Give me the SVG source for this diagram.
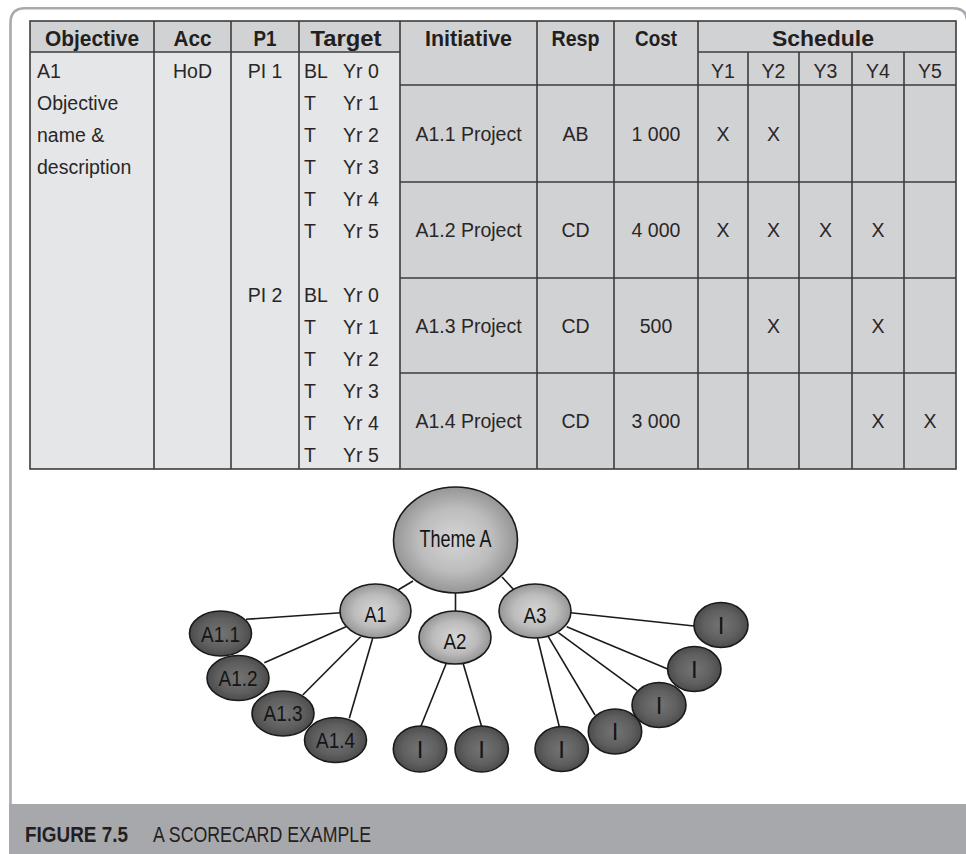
<svg xmlns="http://www.w3.org/2000/svg" width="966" height="854" viewBox="0 0 966 854">
  <style>
    .t { font-family: "Liberation Sans", Arial, sans-serif; font-size: 19.5px; fill: #2a2627; }
    .c { text-anchor: middle; }
    .h { font-family: "Liberation Sans", Arial, sans-serif; font-size: 22px; font-weight: bold; fill: #231f20; text-anchor: middle; }
    .grid { stroke: #3d3d3d; stroke-width: 1.6; fill: none; }
    .edge { stroke: #1a1a1a; stroke-width: 1.6; fill: none; }
    .upper { fill: url(#gradLight); stroke: #1a1a1a; stroke-width: 1.6; }
    .leaf { fill: url(#gradDark); stroke: #1a1a1a; stroke-width: 1.6; }
    .nl { font-family: "Liberation Sans", Arial, sans-serif; font-size: 22px; fill: #151515; text-anchor: middle; }
  </style>
  <defs>
    <radialGradient id="gradLight" cx="50%" cy="50%" r="55%">
      <stop offset="0" stop-color="#d6d6d6"/>
      <stop offset="0.55" stop-color="#bcbcbc"/>
      <stop offset="1" stop-color="#8c8c8c"/>
    </radialGradient>
    <radialGradient id="gradDark" cx="50%" cy="50%" r="55%">
      <stop offset="0" stop-color="#747474"/>
      <stop offset="0.6" stop-color="#5f5f5f"/>
      <stop offset="1" stop-color="#464646"/>
    </radialGradient>
  </defs>

  <rect width="966" height="854" fill="#ffffff"/>

  <!-- page frame and caption band -->
  <path d="M10.5,806 V23 Q10.5,8.3 25,8.3 H953 Q967.5,8.3 967.5,23 V806" fill="none" stroke="#a9aaae" stroke-width="2.6"/>
  <rect x="9" y="804" width="958" height="50" fill="#a7a8ac"/>
  <text class="t" x="25" y="842" style="font-weight:bold;font-size:22px;fill:#231f20" textLength="103" lengthAdjust="spacingAndGlyphs">FIGURE 7.5</text>
  <text class="t" x="153" y="842" style="font-size:22px;fill:#231f20" textLength="218" lengthAdjust="spacingAndGlyphs">A SCORECARD EXAMPLE</text>

  <!-- scorecard table -->
  <g id="scorecard-table">
    <rect x="30" y="52" width="370" height="417" fill="#e5e6e8"/>
    <rect x="30" y="21" width="370" height="31" fill="#d1d2d4"/>
    <rect x="400" y="21" width="556" height="448" fill="#d1d2d4"/>

    <g class="grid">
      <rect x="30" y="21" width="926" height="448"/>
      <path d="M30,52 H400 M698,52 H956 M400,85 H956 M400,182 H956 M400,278 H956 M400,373 H956"/>
      <path d="M154,21 V469 M231,21 V469 M299,21 V469 M400,21 V469 M537,21 V469 M614,21 V469 M698,21 V469"/>
      <path d="M748,52 V469 M799,52 V469 M852,52 V469 M904,52 V469"/>
    </g>

    <!-- header row -->
    <text class="h" x="92" y="45.5" textLength="94" lengthAdjust="spacingAndGlyphs">Objective</text>
    <text class="h" x="192.5" y="45.5" textLength="38" lengthAdjust="spacingAndGlyphs">Acc</text>
    <text class="h" x="265" y="45.5" textLength="23" lengthAdjust="spacingAndGlyphs">P1</text>
    <text class="h" x="346" y="45.5" textLength="71" lengthAdjust="spacingAndGlyphs">Target</text>
    <text class="h" x="468.5" y="45.5" textLength="87" lengthAdjust="spacingAndGlyphs">Initiative</text>
    <text class="h" x="575.5" y="45.5" textLength="48" lengthAdjust="spacingAndGlyphs">Resp</text>
    <text class="h" x="656" y="45.5" textLength="42" lengthAdjust="spacingAndGlyphs">Cost</text>
    <text class="h" x="823" y="45.5" textLength="102" lengthAdjust="spacingAndGlyphs">Schedule</text>

    <!-- schedule year sub-header -->
    <text class="t c" x="723" y="78">Y1</text>
    <text class="t c" x="773.5" y="78">Y2</text>
    <text class="t c" x="825.5" y="78">Y3</text>
    <text class="t c" x="878" y="78">Y4</text>
    <text class="t c" x="930" y="78">Y5</text>

    <!-- objective, owner and indicators -->
    <text class="t" x="37" y="77.7">A1</text>
    <text class="t" x="37" y="109.7">Objective</text>
    <text class="t" x="37" y="141.7">name &amp;</text>
    <text class="t" x="37" y="173.7">description</text>
    <text class="t c" x="192.5" y="77.7">HoD</text>
    <text class="t c" x="265" y="77.7">PI 1</text>
    <text class="t c" x="265" y="301.7">PI 2</text>

    <!-- targets per year -->
    <g class="t">
      <text x="304" y="77.7">BL</text><text x="343" y="77.7">Yr 0</text>
      <text x="304" y="109.7">T</text><text x="343" y="109.7">Yr 1</text>
      <text x="304" y="141.7">T</text><text x="343" y="141.7">Yr 2</text>
      <text x="304" y="173.7">T</text><text x="343" y="173.7">Yr 3</text>
      <text x="304" y="205.7">T</text><text x="343" y="205.7">Yr 4</text>
      <text x="304" y="237.7">T</text><text x="343" y="237.7">Yr 5</text>
      <text x="304" y="301.7">BL</text><text x="343" y="301.7">Yr 0</text>
      <text x="304" y="333.7">T</text><text x="343" y="333.7">Yr 1</text>
      <text x="304" y="365.7">T</text><text x="343" y="365.7">Yr 2</text>
      <text x="304" y="397.7">T</text><text x="343" y="397.7">Yr 3</text>
      <text x="304" y="429.7">T</text><text x="343" y="429.7">Yr 4</text>
      <text x="304" y="461.7">T</text><text x="343" y="461.7">Yr 5</text>
    </g>

    <!-- initiatives -->
    <g class="t c">
      <text x="468.5" y="140.5">A1.1 Project</text>
      <text x="575.5" y="140.5">AB</text>
      <text x="656" y="140.5">1 000</text>
      <text x="723" y="140.5">X</text>
      <text x="773.5" y="140.5">X</text>

      <text x="468.5" y="237">A1.2 Project</text>
      <text x="575.5" y="237">CD</text>
      <text x="656" y="237">4 000</text>
      <text x="723" y="237">X</text>
      <text x="773.5" y="237">X</text>
      <text x="825.5" y="237">X</text>
      <text x="878" y="237">X</text>

      <text x="468.5" y="332.5">A1.3 Project</text>
      <text x="575.5" y="332.5">CD</text>
      <text x="656" y="332.5">500</text>
      <text x="773.5" y="332.5">X</text>
      <text x="878" y="332.5">X</text>

      <text x="468.5" y="428">A1.4 Project</text>
      <text x="575.5" y="428">CD</text>
      <text x="656" y="428">3 000</text>
      <text x="878" y="428">X</text>
      <text x="930" y="428">X</text>
    </g>
  </g>

  <!-- connectors of the theme tree -->
  <g id="connectors" class="edge">
    <line x1="413" y1="581" x2="398" y2="590"/>
    <line x1="455.5" y1="593" x2="455.5" y2="612"/>
    <line x1="502" y1="577" x2="514" y2="590"/>
    <line x1="341" y1="612.7" x2="246" y2="619.3"/>
    <line x1="346" y1="626.7" x2="264.3" y2="662.7"/>
    <line x1="360.7" y1="636.7" x2="302.7" y2="695"/>
    <line x1="372.7" y1="638.3" x2="349.3" y2="718.3"/>
    <line x1="446" y1="664" x2="420.7" y2="726.7"/>
    <line x1="463.3" y1="664" x2="481.7" y2="726.7"/>
    <line x1="537.5" y1="638" x2="559.3" y2="726.7"/>
    <line x1="548.3" y1="636.7" x2="595" y2="715"/>
    <line x1="558.3" y1="632.7" x2="637.3" y2="690.7"/>
    <line x1="566.7" y1="626.7" x2="668.3" y2="669.3"/>
    <line x1="570.7" y1="612.7" x2="694" y2="626"/>
  </g>

  <!-- theme and objectives -->
  <g id="node-theme-a">
    <ellipse class="upper" cx="455.5" cy="540" rx="62" ry="53"/>
    <text class="nl" x="455.5" y="547" style="font-size:24px" textLength="72" lengthAdjust="spacingAndGlyphs">Theme A</text>
  </g>
  <g id="node-a1">
    <ellipse class="upper" cx="375.5" cy="611" rx="35.5" ry="27"/>
    <text class="nl" x="375.5" y="622.3" textLength="22" lengthAdjust="spacingAndGlyphs">A1</text>
  </g>
  <g id="node-a2">
    <ellipse class="upper" cx="455" cy="637.5" rx="36" ry="26.5"/>
    <text class="nl" x="455" y="649" textLength="23" lengthAdjust="spacingAndGlyphs">A2</text>
  </g>
  <g id="node-a3">
    <ellipse class="upper" cx="535" cy="611" rx="36" ry="27"/>
    <text class="nl" x="535" y="622.5" textLength="23" lengthAdjust="spacingAndGlyphs">A3</text>
  </g>

  <!-- initiatives under A1 -->
  <g id="node-a1-1">
    <ellipse class="leaf" cx="220.5" cy="633.5" rx="31" ry="22.5"/>
    <text class="nl" x="220.5" y="641.7" textLength="39" lengthAdjust="spacingAndGlyphs">A1.1</text>
  </g>
  <g id="node-a1-2">
    <ellipse class="leaf" cx="238" cy="678" rx="31" ry="22.5"/>
    <text class="nl" x="238" y="685.5" textLength="39" lengthAdjust="spacingAndGlyphs">A1.2</text>
  </g>
  <g id="node-a1-3">
    <ellipse class="leaf" cx="283" cy="713.5" rx="31" ry="22.5"/>
    <text class="nl" x="283" y="720.7" textLength="39" lengthAdjust="spacingAndGlyphs">A1.3</text>
  </g>
  <g id="node-a1-4">
    <ellipse class="leaf" cx="335.5" cy="740" rx="31" ry="22.5"/>
    <text class="nl" x="335.5" y="748.3" textLength="39" lengthAdjust="spacingAndGlyphs">A1.4</text>
  </g>

  <!-- initiatives under A2 -->
  <g id="node-a2-i1">
    <ellipse class="leaf" cx="420" cy="749" rx="26.7" ry="23"/>
    <text class="nl" x="420" y="757.8" style="font-size:24px">I</text>
  </g>
  <g id="node-a2-i2">
    <ellipse class="leaf" cx="481.7" cy="749" rx="26.7" ry="23"/>
    <text class="nl" x="481.7" y="757.8" style="font-size:24px">I</text>
  </g>

  <!-- initiatives under A3 -->
  <g id="node-a3-i1">
    <ellipse class="leaf" cx="561.7" cy="749" rx="26.7" ry="22.5"/>
    <text class="nl" x="561.7" y="757.8" style="font-size:24px">I</text>
  </g>
  <g id="node-a3-i2">
    <ellipse class="leaf" cx="615" cy="731.5" rx="26.7" ry="22.5"/>
    <text class="nl" x="615" y="740.3" style="font-size:24px">I</text>
  </g>
  <g id="node-a3-i3">
    <ellipse class="leaf" cx="659" cy="705" rx="27" ry="22.5"/>
    <text class="nl" x="659" y="713.8" style="font-size:24px">I</text>
  </g>
  <g id="node-a3-i4">
    <ellipse class="leaf" cx="694.3" cy="669" rx="26.7" ry="22.5"/>
    <text class="nl" x="694.3" y="677.8" style="font-size:24px">I</text>
  </g>
  <g id="node-a3-i5">
    <ellipse class="leaf" cx="721" cy="625" rx="27" ry="22.5"/>
    <text class="nl" x="721" y="633.8" style="font-size:24px">I</text>
  </g>
</svg>
